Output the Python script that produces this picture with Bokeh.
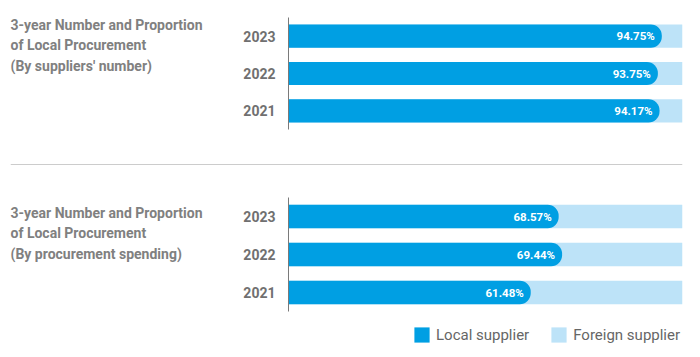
from bokeh.plotting import figure
from bokeh.models import Span, Legend, LegendItem, ColumnDataSource, Range1d, FactorRange
from bokeh.layouts import column, row
from bokeh.core.properties import value
from bokeh.embed import file_html
from bokeh.resources import INLINE

years = ["2021", "2022", "2023"]
local_by_number = [94.17, 93.75, 94.75]
local_by_spending = [61.48, 69.44, 68.57]
title_number = ["3-year Number and Proportion", "of Local Procurement", "(By suppliers' number)"]
title_spending = ["3-year Number and Proportion", "of Local Procurement", "(By procurement spending)"]
series_names = ["Local supplier", "Foreign supplier"]

BLUE = "#009fe3"
LIGHT = "#bde3f8"
GRAY = "#7a7a7a"
FONT = "Roboto"
W = 692
TW = 240


def blank(width, height, left=0, right=0, top=0, bottom=0):
    p = figure(width=width, height=height, x_range=Range1d(left, width - right),
               y_range=Range1d(bottom, height - top), output_backend="svg", toolbar_location=None,
               min_border_left=left, min_border_right=right, min_border_top=top, min_border_bottom=bottom)
    p.axis.visible = False
    p.grid.visible = False
    p.outline_line_color = None
    return p


def title_fig(lines, height, top, bottom, first_center):
    p = blank(TW, height, top=top, bottom=bottom)
    p.text(x=[10] * len(lines), y=[height - first_center - 20.5 * i for i in range(len(lines))], text=lines,
           text_font=value(FONT), text_font_style="bold", text_font_size="14px", text_color="#808080",
           text_baseline="middle", text_align="left")
    return p


def chart_fig(local, height, top, bottom):
    foreign = [100 - v for v in local]
    src = ColumnDataSource(dict(
        year=years, local=local, total=[l + f for l, f in zip(local, foreign)],
        label=[f"{v:.2f}%" for v in local]))
    p = figure(width=W - TW, height=height, y_range=FactorRange(*years, range_padding=0),
               x_range=Range1d(0, 100), output_backend="svg", toolbar_location=None,
               min_border_left=45, min_border_right=10, min_border_top=top, min_border_bottom=bottom)
    p.outline_line_color = None
    p.grid.visible = False
    p.xaxis.visible = False
    p.y_range.factor_padding = 0
    p.hbar(y="year", left=0, right="total", height=0.62, source=src, color=LIGHT, line_color=None)
    p.hbar(y="year", left=0, right="local", height=0.62, source=src, color=BLUE, line_color=None,
           border_radius=(0, 11, 11, 0))
    p.text(x="local", y="year", text="label", source=src, x_offset=-7, text_align="right",
           text_baseline="middle", text_color="white", text_font=value(FONT), text_font_style="bold",
           text_font_size="11.5px")
    ax = p.yaxis[0]
    ax.axis_line_color = GRAY
    ax.axis_line_width = 1
    ax.major_tick_line_color = None
    ax.minor_tick_line_color = None
    ax.major_tick_out = 0
    ax.major_tick_in = 0
    ax.major_label_standoff = 13
    ax.major_label_text_font = FONT
    ax.major_label_text_font_style = "bold"
    ax.major_label_text_font_size = "14px"
    ax.major_label_text_color = "#707070"
    return p


row_a = row(title_fig(title_number, 158, 17, 29, 24), chart_fig(local_by_number, 158, 17, 29), spacing=0)

ps = blank(W, 12, left=10, right=10)
ps.add_layout(Span(location=6, dimension="width", line_color="#cccccc", line_width=1))

row_b = row(title_fig(title_spending, 148, 27, 7, 42), chart_fig(local_by_spending, 148, 27, 7), spacing=0)

pl = blank(W, 39)
swatch = ColumnDataSource(dict(y=[0], left=[0], right=[0]))
r_local = pl.hbar(y="y", left="left", right="right", height=0, source=swatch, color=BLUE, line_color=None)
r_foreign = pl.hbar(y="y", left="left", right="right", height=0, source=swatch, color=LIGHT, line_color=None)
leg = Legend(items=[LegendItem(label=series_names[0], renderers=[r_local]),
                    LegendItem(label=series_names[1], renderers=[r_foreign])],
             orientation="horizontal", location=(402, 13), spacing=20,
             glyph_width=19, glyph_height=19, label_text_font=FONT,
             label_text_font_size="15px", label_text_color="#666666",
             border_line_color=None, background_fill_alpha=0, padding=0, margin=0,
             label_standoff=5)
pl.add_layout(leg, "center")

layout = column(row_a, ps, row_b, pl, spacing=0)
open("out.html", "w").write(file_html(layout, INLINE))
